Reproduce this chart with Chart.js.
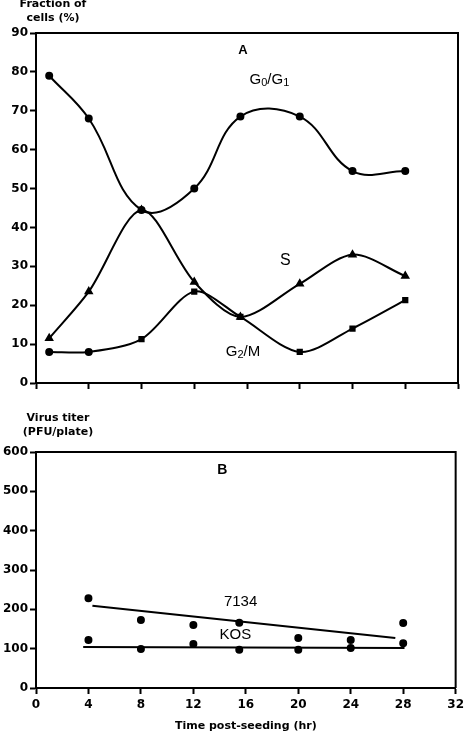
<!DOCTYPE html>
<html lang="en">
<head>
<meta charset="UTF-8">
<title>Cell cycle fractions and virus titer</title>
<script src="https://cdn.jsdelivr.net/npm/chart.js"></script>
<style>
    body { margin: 0; background: #fff; }
    #wrap { position: relative; width: 468px; height: 738px; }
    #chart-a { position: absolute; left: 0; top: 0; }
    #chart-b { position: absolute; left: 0; top: 400px; }
</style>
</head>
<body>
<div id="wrap">
    <canvas id="chart-a" width="468" height="400"></canvas>
    <canvas id="chart-b" width="468" height="338"></canvas>
</div>
<script>
// Panel A: fraction of cells (%) in each phase
const hoursA = [1, 4, 8, 12, 15.5, 20, 24, 28];
const g0g1 = [79, 68, 44.5, 50, 68.5, 68.5, 54.5, 54.5];
const sPhase = [11.5, 23.5, 44.5, 26, 17, 25.5, 33, 27.5];
const g2m = [8, 8, 11.3, 23.5, 17, 8, 14, 21.3];

// Panel B: virus titer (PFU/plate)
const hoursB = [4, 8, 12, 15.5, 20, 24, 28];
const titer7134 = [228, 173, 160, 166, 127, 122, 165];
const titerKOS = [122, 99, 112, 97, 97, 102, 114];
// fitted lines (end points)
const fit7134X = [4.3, 27.4];
const fit7134Y = [209, 127];
const fitKOSX = [3.6, 28.1];
const fitKOSY = [104, 102];

const tickFont = { family: 'DejaVu Sans', weight: 'bold', size: 12 };
const toXY = (xs, ys) => xs.map((x, i) => ({ x, y: ys[i] }));

// text drawn in the plot, in data coordinates; parts flagged true are subscripts
const labelsA = [
    { x: 15.7, y: 85.6, parts: [['A']], font: 'bold 13px "Liberation Sans"' },
    { x: 17.7, y: 77.9, parts: [['G'], ['0', true], ['/'], ['G'], ['1', true]], font: '15px "Liberation Sans"' },
    { x: 18.9, y: 31.6, parts: [['S']], font: '16px "Liberation Sans"' },
    { x: 15.7, y: 8, parts: [['G'], ['2', true], ['/M']], font: '15px "Liberation Sans"' }
];
const labelsB = [
    { x: 14.2, y: 555, parts: [['B']], font: 'bold 14px "Liberation Sans"' },
    { x: 15.6, y: 219, parts: [['7134']], font: '15px "Liberation Sans"' },
    { x: 15.2, y: 135, parts: [['KOS']], font: '15px "Liberation Sans"' }
];

const frame = {
    id: 'frame',
    afterDraw(chart, args, opts) {
        const { ctx, chartArea: a, scales } = chart;
        ctx.save();
        // top and right sides of the box
        ctx.strokeStyle = '#000';
        ctx.lineWidth = 2;
        ctx.beginPath();
        ctx.moveTo(a.left, a.top);
        ctx.lineTo(a.right, a.top);
        ctx.lineTo(a.right, a.bottom);
        ctx.stroke();

        ctx.fillStyle = '#000';
        ctx.textBaseline = 'middle';
        opts.labels.forEach(l => {
            const base = ctx.font = l.font;
            const size = parseFloat(l.font.match(/(\d+)px/)[1]);
            const subFont = l.font.replace(/\d+px/, Math.round(size * 0.7) + 'px');
            let w = 0;
            l.parts.forEach(p => { ctx.font = p[1] ? subFont : base; w += ctx.measureText(p[0]).width; });
            let x = scales.x.getPixelForValue(l.x) - w / 2;
            const y = scales.y.getPixelForValue(l.y);
            ctx.textAlign = 'left';
            l.parts.forEach(p => {
                ctx.font = p[1] ? subFont : base;
                ctx.fillText(p[0], x, p[1] ? y + size * 0.22 : y);
                x += ctx.measureText(p[0]).width;
            });
        });

        // axis titles
        ctx.font = 'bold 11px "DejaVu Sans"';
        ctx.textAlign = 'center';
        opts.yTitle.forEach((t, i) => ctx.fillText(t, opts.yTitleX, opts.yTitleY + i * 14));
        if (opts.xTitle) ctx.fillText(opts.xTitle, (a.left + a.right) / 2, a.bottom + 38);
        ctx.restore();
    }
};

const xAxis = (labels) => ({
    type: 'linear', min: 0, max: 32,
    ticks: { stepSize: 4, display: labels, color: '#000', font: tickFont, padding: 4, maxRotation: 0 },
    grid: { drawOnChartArea: false, tickLength: 6, tickColor: '#000', tickWidth: 2 },
    border: { color: '#000', width: 2 },
    afterFit(s) { s.height = labels ? 50 : 17; }
});
const yAxis = (max, step) => ({
    min: 0, max: max,
    ticks: { stepSize: step, color: '#000', font: tickFont, padding: 2 },
    grid: { drawOnChartArea: false, tickLength: 6, tickColor: '#000', tickWidth: 2 },
    border: { color: '#000', width: 2 },
    afterFit(s) { s.width = 36; }
});
const lineSet = (data, style, extra) => Object.assign({
    data, borderColor: '#000', backgroundColor: '#000', borderWidth: 2,
    pointStyle: style, pointRadius: 3, tension: 0.4
}, extra || {});

new Chart(document.getElementById('chart-a'), {
    type: 'line',
    data: {
        datasets: [
            lineSet(toXY(hoursA, g0g1), 'circle'),
            lineSet(toXY(hoursA, sPhase), 'triangle', { pointRadius: 3.5, tension: 0.3 }),
            lineSet(toXY(hoursA, g2m), ['circle', 'circle', 'rect', 'rect', 'rect', 'rect', 'rect', 'rect'], { tension: 0.3 })
        ]
    },
    options: {
        responsive: false, animation: false,
        layout: { padding: { top: 33, right: 10, left: 0, bottom: 0 } },
        scales: { x: xAxis(false), y: yAxis(90, 10) },
        plugins: {
            legend: { display: false }, tooltip: { enabled: false },
            frame: { labels: labelsA, yTitle: ['Fraction of', 'cells (%)'], yTitleX: 53, yTitleY: 4 }
        }
    },
    plugins: [frame]
});

new Chart(document.getElementById('chart-b'), {
    type: 'line',
    data: {
        datasets: [
            lineSet(toXY(hoursB, titer7134), 'circle', { showLine: false }),
            lineSet(toXY(hoursB, titerKOS), 'circle', { showLine: false }),
            lineSet(toXY(fit7134X, fit7134Y), 'circle', { pointRadius: 0, tension: 0 }),
            lineSet(toXY(fitKOSX, fitKOSY), 'circle', { pointRadius: 0, tension: 0 })
        ]
    },
    options: {
        responsive: false, animation: false,
        layout: { padding: { top: 52, right: 10, left: 0, bottom: 0 } },
        scales: { x: xAxis(true), y: yAxis(600, 100) },
        plugins: {
            legend: { display: false }, tooltip: { enabled: false },
            frame: { labels: labelsB, yTitle: ['Virus titer', '(PFU/plate)'], yTitleX: 58, yTitleY: 18, xTitle: 'Time post-seeding (hr)' }
        }
    },
    plugins: [frame]
});
</script>
</body>
</html>
